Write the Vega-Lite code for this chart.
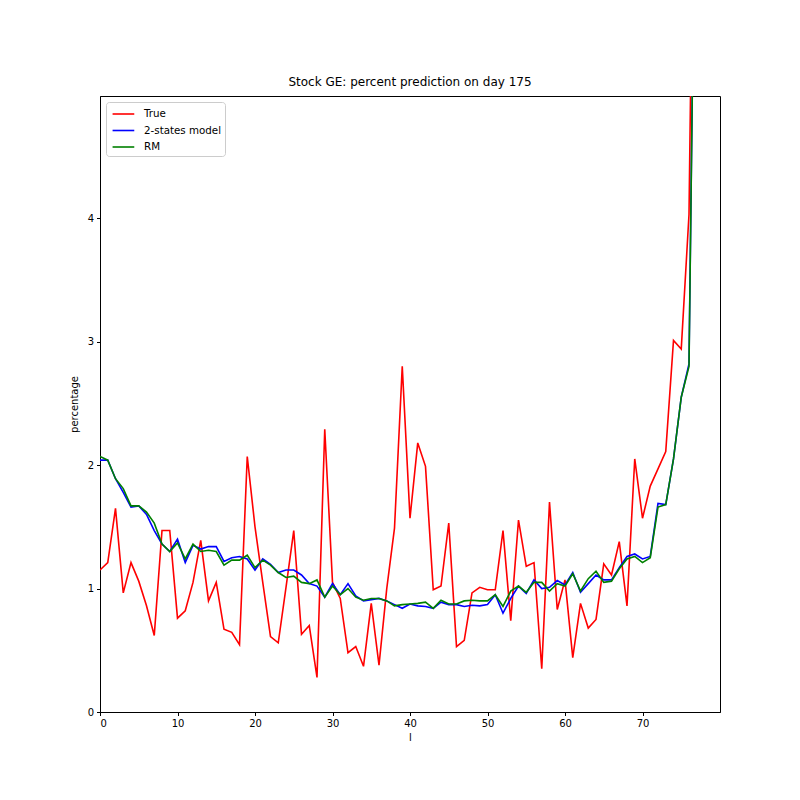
{
  "$schema": "https://vega.github.io/schema/vega-lite/v6.json",
  "width": 620,
  "height": 616,
  "autosize": "none",
  "padding": {"left": 100, "top": 96, "right": 80, "bottom": 88},
  "background": "white",
  "title": {
    "text": "Stock GE: percent prediction on day 175",
    "fontSize": 12,
    "font": "DejaVu Sans",
    "fontWeight": "normal",
    "color": "black",
    "offset": 7
  },
  "config": {
    "view": {"stroke": "black", "strokeWidth": 1},
    "axis": {
      "grid": false,
      "domainColor": "black",
      "tickColor": "black",
      "tickSize": 3.5,
      "labelFont": "DejaVu Sans",
      "labelFontSize": 10,
      "labelColor": "black",
      "titleFont": "DejaVu Sans",
      "titleFontSize": 10,
      "titleFontWeight": "normal",
      "titleColor": "black"
    },
    "legend": {
      "labelFont": "DejaVu Sans",
      "labelFontSize": 10.3,
      "labelColor": "black"
    }
  },
  "data": {
    "values": [
      {"l": 0, "True": 1.15, "2-states model": 2.04, "RM": 2.07},
      {"l": 1, "True": 1.21, "2-states model": 2.04, "RM": 2.04},
      {"l": 2, "True": 1.65, "2-states model": 1.89, "RM": 1.89},
      {"l": 3, "True": 0.965, "2-states model": 1.78, "RM": 1.81},
      {"l": 4, "True": 1.21, "2-states model": 1.66, "RM": 1.67},
      {"l": 5, "True": 1.06, "2-states model": 1.67, "RM": 1.67},
      {"l": 6, "True": 0.86, "2-states model": 1.6, "RM": 1.62},
      {"l": 7, "True": 0.62, "2-states model": 1.47, "RM": 1.53},
      {"l": 8, "True": 1.47, "2-states model": 1.36, "RM": 1.36},
      {"l": 9, "True": 1.47, "2-states model": 1.3, "RM": 1.3},
      {"l": 10, "True": 0.76, "2-states model": 1.4, "RM": 1.37},
      {"l": 11, "True": 0.82, "2-states model": 1.21, "RM": 1.24},
      {"l": 12, "True": 1.05, "2-states model": 1.35, "RM": 1.36},
      {"l": 13, "True": 1.39, "2-states model": 1.32, "RM": 1.3},
      {"l": 14, "True": 0.9, "2-states model": 1.34, "RM": 1.31},
      {"l": 15, "True": 1.05, "2-states model": 1.34, "RM": 1.3},
      {"l": 16, "True": 0.67, "2-states model": 1.22, "RM": 1.19},
      {"l": 17, "True": 0.645, "2-states model": 1.25, "RM": 1.23},
      {"l": 18, "True": 0.545, "2-states model": 1.26, "RM": 1.23},
      {"l": 19, "True": 2.07, "2-states model": 1.24, "RM": 1.27},
      {"l": 20, "True": 1.5, "2-states model": 1.15, "RM": 1.17},
      {"l": 21, "True": 1.05, "2-states model": 1.24, "RM": 1.23},
      {"l": 22, "True": 0.61, "2-states model": 1.195, "RM": 1.19},
      {"l": 23, "True": 0.56, "2-states model": 1.13, "RM": 1.13},
      {"l": 24, "True": 1.01, "2-states model": 1.15, "RM": 1.09},
      {"l": 25, "True": 1.47, "2-states model": 1.15, "RM": 1.1},
      {"l": 26, "True": 0.63, "2-states model": 1.11, "RM": 1.05},
      {"l": 27, "True": 0.7, "2-states model": 1.04, "RM": 1.04},
      {"l": 28, "True": 0.28, "2-states model": 1.02, "RM": 1.07},
      {"l": 29, "True": 2.29, "2-states model": 0.93, "RM": 0.93},
      {"l": 30, "True": 1.05, "2-states model": 1.04, "RM": 1.02},
      {"l": 31, "True": 0.92, "2-states model": 0.95, "RM": 0.95},
      {"l": 32, "True": 0.48, "2-states model": 1.04, "RM": 1.0},
      {"l": 33, "True": 0.53, "2-states model": 0.94, "RM": 0.93},
      {"l": 34, "True": 0.37, "2-states model": 0.9, "RM": 0.905},
      {"l": 35, "True": 0.88, "2-states model": 0.91, "RM": 0.92},
      {"l": 36, "True": 0.38, "2-states model": 0.92, "RM": 0.92},
      {"l": 37, "True": 1.0, "2-states model": 0.9, "RM": 0.9},
      {"l": 38, "True": 1.49, "2-states model": 0.87, "RM": 0.86},
      {"l": 39, "True": 2.8, "2-states model": 0.84, "RM": 0.87},
      {"l": 40, "True": 1.57, "2-states model": 0.875, "RM": 0.875},
      {"l": 41, "True": 2.18, "2-states model": 0.86, "RM": 0.88},
      {"l": 42, "True": 1.99, "2-states model": 0.855, "RM": 0.89},
      {"l": 43, "True": 0.99, "2-states model": 0.84, "RM": 0.84},
      {"l": 44, "True": 1.02, "2-states model": 0.89, "RM": 0.905},
      {"l": 45, "True": 1.53, "2-states model": 0.87, "RM": 0.875},
      {"l": 46, "True": 0.53, "2-states model": 0.87, "RM": 0.875},
      {"l": 47, "True": 0.58, "2-states model": 0.855, "RM": 0.9},
      {"l": 48, "True": 0.965, "2-states model": 0.865, "RM": 0.905},
      {"l": 49, "True": 1.01, "2-states model": 0.86, "RM": 0.9},
      {"l": 50, "True": 0.99, "2-states model": 0.87, "RM": 0.9},
      {"l": 51, "True": 0.99, "2-states model": 0.95, "RM": 0.95},
      {"l": 52, "True": 1.47, "2-states model": 0.8, "RM": 0.855},
      {"l": 53, "True": 0.74, "2-states model": 0.92, "RM": 0.98},
      {"l": 54, "True": 1.555, "2-states model": 1.02, "RM": 1.02},
      {"l": 55, "True": 1.18, "2-states model": 0.96, "RM": 0.97},
      {"l": 56, "True": 1.21, "2-states model": 1.07, "RM": 1.05},
      {"l": 57, "True": 0.35, "2-states model": 1.0, "RM": 1.05},
      {"l": 58, "True": 1.7, "2-states model": 1.01, "RM": 0.98},
      {"l": 59, "True": 0.83, "2-states model": 1.065, "RM": 1.04},
      {"l": 60, "True": 1.07, "2-states model": 1.03, "RM": 1.02},
      {"l": 61, "True": 0.44, "2-states model": 1.13, "RM": 1.12},
      {"l": 62, "True": 0.88, "2-states model": 0.97, "RM": 0.98},
      {"l": 63, "True": 0.68, "2-states model": 1.04, "RM": 1.08},
      {"l": 64, "True": 0.75, "2-states model": 1.11, "RM": 1.14},
      {"l": 65, "True": 1.2, "2-states model": 1.07, "RM": 1.05},
      {"l": 66, "True": 1.11, "2-states model": 1.07, "RM": 1.06},
      {"l": 67, "True": 1.38, "2-states model": 1.17, "RM": 1.16},
      {"l": 68, "True": 0.86, "2-states model": 1.26, "RM": 1.24},
      {"l": 69, "True": 2.05, "2-states model": 1.28, "RM": 1.26},
      {"l": 70, "True": 1.57, "2-states model": 1.24, "RM": 1.21},
      {"l": 71, "True": 1.83, "2-states model": 1.26, "RM": 1.25},
      {"l": 72, "True": 1.97, "2-states model": 1.69, "RM": 1.66},
      {"l": 73, "True": 2.11, "2-states model": 1.68, "RM": 1.68},
      {"l": 74, "True": 3.01, "2-states model": 2.05, "RM": 2.05},
      {"l": 75, "True": 2.94, "2-states model": 2.55, "RM": 2.55},
      {"l": 76, "True": 4.03, "2-states model": 2.82, "RM": 2.8},
      {"l": 77, "True": 9.0, "2-states model": 8.0, "RM": 8.0}
    ]
  },
  "transform": [
    {"fold": ["True", "2-states model", "RM"], "as": ["series", "value"]}
  ],
  "mark": {"type": "line", "strokeWidth": 1.6, "clip": true},
  "encoding": {
    "x": {
      "field": "l",
      "type": "quantitative",
      "title": "l",
      "scale": {"domain": [0, 80], "nice": false, "zero": false},
      "axis": {"values": [0, 10, 20, 30, 40, 50, 60, 70], "labelPadding": 3, "titlePadding": 4}
    },
    "y": {
      "field": "value",
      "type": "quantitative",
      "title": "percentage",
      "scale": {"domain": [0, 4.99], "nice": false, "zero": false},
      "axis": {"values": [0, 1, 2, 3, 4], "labelPadding": 3, "titlePadding": 8}
    },
    "color": {
      "field": "series",
      "type": "nominal",
      "sort": ["True", "2-states model", "RM"],
      "scale": {
        "domain": ["True", "2-states model", "RM"],
        "range": ["#ff0000", "#0000ff", "#008000"]
      },
      "legend": {
        "title": null,
        "orient": "top-left",
        "offset": 6,
        "symbolType": "M-0.7,0H2.1",
        "symbolStrokeWidth": 1.6,
        "symbolSize": 240,
        "labelOffset": 17,
        "rowPadding": 1.5,
        "padding": 3,
        "strokeColor": "#cccccc",
        "fillColor": "white",
        "cornerRadius": 3
      }
    }
  }
}
